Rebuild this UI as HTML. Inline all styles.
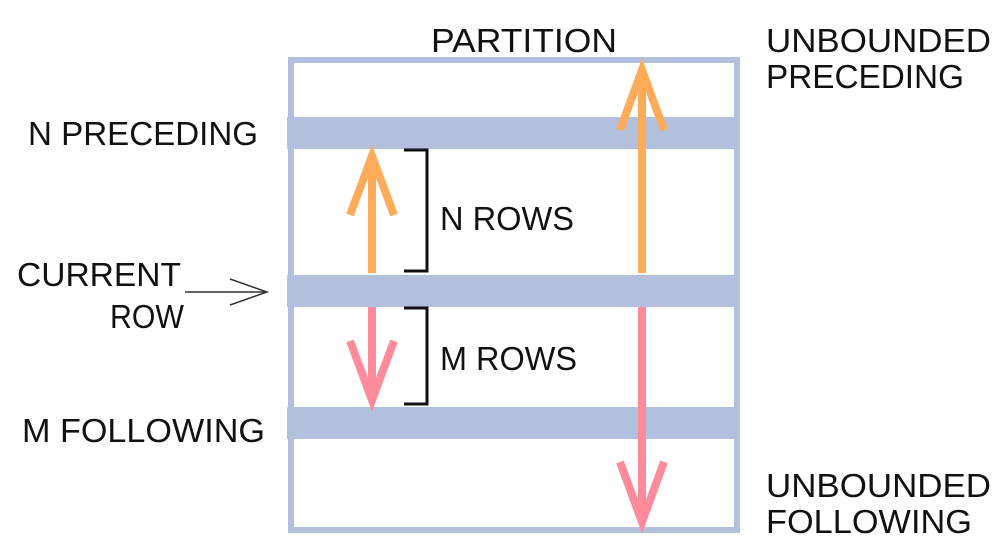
<!DOCTYPE html>
<html><head><style>html,body{margin:0;padding:0;background:#fff}</style></head>
<body>
<svg width="1002" height="552" viewBox="0 0 1002 552" xmlns="http://www.w3.org/2000/svg" font-family="Liberation Sans, sans-serif" font-size="33" fill="#111">
<rect x="291" y="60" width="446" height="470" fill="none" stroke="#b3c0dd" stroke-width="6"/>
<rect x="287" y="117" width="453" height="32" fill="#b3c0dd"/>
<rect x="287" y="275" width="453" height="32" fill="#b3c0dd"/>
<rect x="287" y="407" width="453" height="32" fill="#b3c0dd"/>
<g stroke-width="8" fill="none" stroke-linecap="butt">
<g stroke="#ffac5a">
<line x1="372" y1="273" x2="372" y2="156"/>
<polyline points="350,215 372,156 394,215"/>
<line x1="642" y1="273" x2="642" y2="70"/>
<polyline points="620,130 642,70 664,130"/>
</g>
<g stroke="#ff8a9a">
<line x1="372" y1="307" x2="372" y2="400"/>
<polyline points="350,341 372,400 394,341"/>
<line x1="642" y1="307" x2="642" y2="522"/>
<polyline points="620,462 642,522 664,462"/>
</g>
</g>
<g stroke="#111" stroke-width="3" fill="none">
<polyline points="404,150 427,150 427,271 404,271"/>
<polyline points="404,308 427,308 427,404 404,404"/>
</g>
<g stroke="#333" stroke-width="1.5" fill="none">
<line x1="185" y1="292" x2="267" y2="292"/>
<polyline points="230,279 267,292 230,305"/>
</g>
<text x="431" y="52" textLength="186" lengthAdjust="spacingAndGlyphs">PARTITION</text>
<text x="766" y="52" textLength="225" lengthAdjust="spacingAndGlyphs">UNBOUNDED</text>
<text x="766" y="88" textLength="198" lengthAdjust="spacingAndGlyphs">PRECEDING</text>
<text x="28" y="145" textLength="230" lengthAdjust="spacingAndGlyphs">N PRECEDING</text>
<text x="440" y="230" textLength="134" lengthAdjust="spacingAndGlyphs">N ROWS</text>
<text x="17" y="286" textLength="164" lengthAdjust="spacingAndGlyphs">CURRENT</text>
<text x="110" y="328" textLength="74" lengthAdjust="spacingAndGlyphs">ROW</text>
<text x="440" y="370" textLength="137" lengthAdjust="spacingAndGlyphs">M ROWS</text>
<text x="22" y="442" textLength="243" lengthAdjust="spacingAndGlyphs">M FOLLOWING</text>
<text x="766" y="497" textLength="225" lengthAdjust="spacingAndGlyphs">UNBOUNDED</text>
<text x="766" y="533" textLength="206" lengthAdjust="spacingAndGlyphs">FOLLOWING</text>
</svg>
</body></html>
